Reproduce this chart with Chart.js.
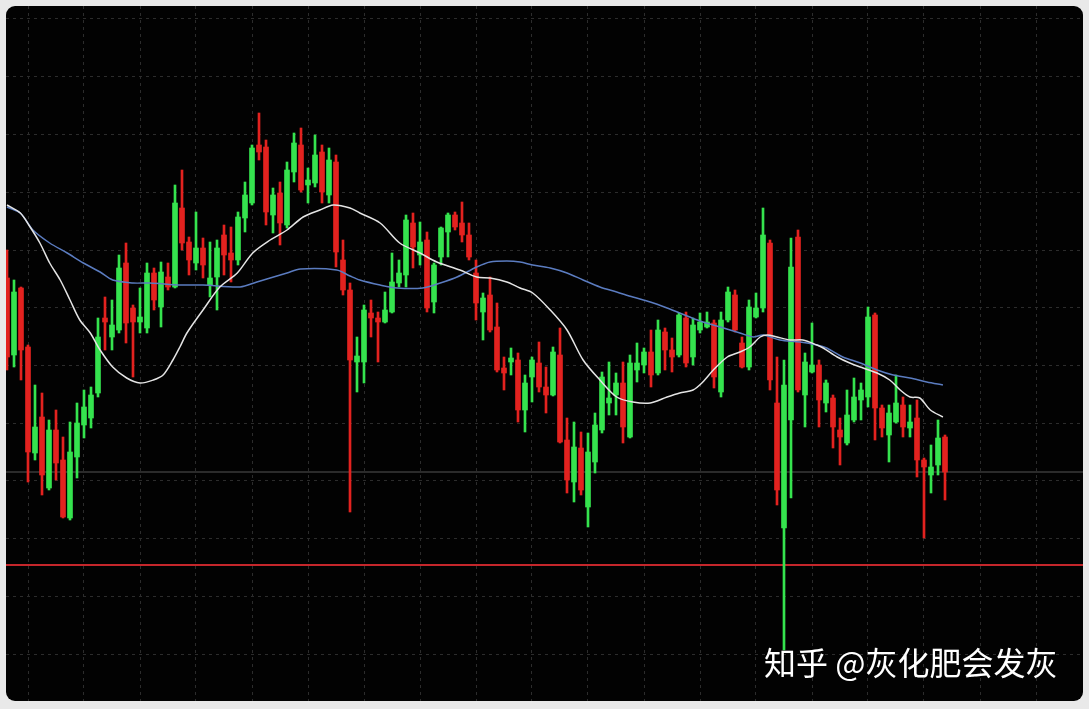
<!DOCTYPE html>
<html lang="zh">
<head>
    <meta charset="UTF-8">
    <title>K线图</title>
    <script src="https://cdn.jsdelivr.net/npm/chart.js"></script>
    <style>
        html, body {
            margin: 0;
            padding: 0;
            background: #e9e9e9;
            width: 1089px;
            height: 709px;
            overflow: hidden;
        }
        #panel {
            position: absolute;
            left: 6px;
            top: 6px;
            width: 1077px;
            height: 695px;
            background: #020202;
            border-radius: 9px;
            overflow: hidden;
        }
        #watermark {
            position: absolute;
            left: 764px;
            top: 638px;
            color: #ffffff;
            font-family: "Noto Sans CJK SC", sans-serif;
            font-size: 32px;
            white-space: nowrap;
        }
    </style>
</head>
<body>
    <div id="panel"><canvas id="kline" width="1077" height="695"></canvas></div>
    <div id="watermark">知乎 @灰化肥会发灰</div>

    <script>
        // OHLC, units (no axis labels in the source)
        const open = [422,345,412,353,247,283,212,270,240,182, 243,275,282,307,382,363,370,437,392,378,
                      372,427,393,423,413,492,458,437,452,415, 423,465,447,440,482,497,555,553,485,507,
                      475,528,555,515,517,548,505,538,440,410, 338,338,387,382,378,388,417,425,477,445,
                      460,398,443,468,485,477,465,427,388,405, 373,332,338,340,290,323,337,313,305,345,
                      260,218,252,193,238,270,297,305,317,263, 330,335,348,327,368,350,345,382,343,370,
                      373,377,308,380,405,357,333,383,392,457, 297,172,280,463,305,328,335,297,302,270,
                      257,280,300,303,385,292,265,278,295,272, 282,240,225,235,263];
        const high = [450,420,413,355,315,307,280,290,263,278, 297,310,313,382,403,400,445,457,395,412,
                      437,432,438,437,515,530,463,488,462,458, 460,475,473,488,518,555,587,560,512,518,
                      538,567,572,532,565,555,552,545,460,417, 363,395,400,388,408,447,440,485,487,478,
                      468,437,473,487,488,498,477,440,407,423, 397,343,352,347,325,343,358,333,353,372,
                      282,278,268,267,287,328,338,327,338,345, 357,352,370,380,372,362,387,388,382,387,
                      388,380,388,413,410,363,400,407,492,460, 343,340,462,470,347,377,340,320,305,282,
                      310,322,317,393,387,295,295,325,303,295, 300,242,255,280,265];
        const low = [330,333,320,218,240,205,210,220,182,180, 222,262,272,303,350,350,367,357,323,367,
                     367,390,373,410,412,450,425,430,422,403, 390,425,418,435,468,495,540,475,467,455,
                     472,518,508,497,513,497,497,433,405,188, 308,317,363,338,377,387,413,413,432,435,
                     388,387,435,443,470,458,440,380,360,368, 328,310,325,278,268,298,308,287,304,257,
                     207,198,205,173,227,267,285,285,257,262, 318,327,313,325,330,328,343,333,335,367,
                     372,312,303,378,368,332,330,382,388,310, 195,50,202,308,273,327,273,288,252,235,
                     255,278,280,293,260,263,238,277,263,263, 223,162,207,225,200];
        const close = [343,408,350,248,273,225,270,237,183,248, 277,293,305,363,378,375,432,377,378,383,
                       427,400,428,413,497,457,440,452,435,422, 452,445,440,483,505,552,548,488,505,477,
                       530,557,510,520,545,508,540,448,410,340, 344,390,382,378,390,418,427,480,453,458,
                       392,435,472,485,473,465,443,397,402,370, 330,327,342,290,317,340,313,305,348,258,
                       220,253,210,248,275,323,302,317,273,337, 337,348,325,370,350,343,385,337,375,378,
                       378,323,380,408,370,333,393,392,465,320, 210,315,433,310,338,335,300,317,273,263,
                       285,303,310,383,292,272,287,297,273,278, 240,233,233,262,228];

        // moving averages, sampled along the curves (x = bar index)
        const maFastX = [0,1.9,3.3,4.7,6.1,7.6,9,10.4,11.9,13.3,15.1,17.1,19,20.9,22.3,23.7,24.7,25.7,28,30.4,
                         32.9,35.1,37.6,40,42.3,44.7,46.6,49,50.4,53.3,56.1,59,61.4,64.7,67.1,69,71.4,73.3,75.1,77.6,
                         80,82.3,84.7,87.1,89.4,91.9,94.3,96.1,98,99.4,100.9,102.9,104.7,106.1,107.6,108.6,110,111.9,113.7,115.7,
                         116.6,118.6,120.4,122.3,124.3,126.1,127.6,129,130.4,131.9,133.7];
        const maFastY = [495,487,473,457,437,420,400,380,367,350,333,322,317,320,325,340,353,367,390,413,
                         427,447,460,470,483,490,495,492,487,477,457,447,438,430,423,422,418,412,407,390,
                         370,340,320,303,298,297,303,307,310,318,330,343,348,353,363,365,363,360,360,355,
                         352,343,337,332,327,320,310,303,302,290,283];
        const maSlowX = [0,1.9,3.7,6.1,8.6,10.9,13.3,15.1,18,20.4,24.7,28,33.3,35.7,37.6,40,41.9,47.1,49,50.4,
                         53.3,55.7,59.4,61.9,64.3,67.1,69,71.4,73.3,75.1,77.6,80,82.3,84.7,87.1,89.4,91.9,94.3,96.1,99,
                         101.9,104.7,106.6,108,110.4,113.3,115.7,117.1,119.4,121.9,124.3,126.6,129,131.4,133.7];
        const maSlowY = [493,487,470,457,447,437,428,420,417,417,415,415,413,418,422,427,431,430,424,420,
                         415,412,412,417,423,433,438,439,438,435,432,427,420,413,408,403,398,392,387,379,
                         373,367,363,365,360,358,355,352,343,337,330,325,322,318,315];

        // horizontal levels and grid positions
        const greyLevel = 228;
        const redLevel = 135;
        const gridX = [3,11,19,27,35,43,51,59,67,75,83,91,99,107,115,123,131,139,147];
        const gridY = [46,104,162,220,277,335,393,450,508,566,624,682];

        const UP = '#35e34e';
        const DOWN = '#e3221f';
        const idx = open.map((_, i) => i);
        const colors = idx.map(i => close[i] >= open[i] ? UP : DOWN);

        const ctx = document.getElementById('kline').getContext('2d');
        new Chart(ctx, {
            type: 'bar',
            data: {
                datasets: [
                    {
                        type: 'line',
                        data: maFastX.map((x, i) => ({ x, y: maFastY[i] })),
                        borderColor: '#e4e4e4',
                        borderWidth: 1.5,
                        pointRadius: 0,
                        tension: 0.3,
                        order: 0
                    },
                    {
                        type: 'line',
                        data: maSlowX.map((x, i) => ({ x, y: maSlowY[i] })),
                        borderColor: '#5b7cc0',
                        borderWidth: 1.5,
                        pointRadius: 0,
                        tension: 0.3,
                        order: 0
                    },
                    {
                        data: idx.map(i => ({ x: i, y: [open[i], close[i]] })),
                        backgroundColor: colors,
                        barThickness: 5,
                        grouped: false,
                        borderWidth: 0,
                        order: 1
                    },
                    {
                        data: idx.map(i => ({ x: i, y: [low[i], high[i]] })),
                        backgroundColor: colors,
                        barThickness: 2,
                        grouped: false,
                        borderWidth: 0,
                        order: 2
                    },
                    {
                        type: 'line',
                        data: [{ x: -2, y: greyLevel }, { x: 156, y: greyLevel }],
                        borderColor: '#3a3a3a',
                        borderWidth: 1.5,
                        pointRadius: 0,
                        order: 3
                    },
                    {
                        type: 'line',
                        data: [{ x: -2, y: redLevel }, { x: 156, y: redLevel }],
                        borderColor: '#c4262b',
                        borderWidth: 2,
                        pointRadius: 0,
                        order: 3
                    }
                ]
            },
            options: {
                responsive: false,
                animation: false,
                devicePixelRatio: 1,
                layout: { padding: 0 },
                plugins: {
                    legend: { display: false },
                    tooltip: { enabled: false }
                },
                scales: {
                    x: {
                        type: 'linear',
                        min: -1 / 7,
                        max: 1076 / 7,
                        offset: false,
                        afterBuildTicks: axis => { axis.ticks = gridX.map(v => ({ value: v })); },
                        ticks: { display: false },
                        border: { display: false, dash: [3, 4] },
                        grid: { offset: false, drawTicks: false, color: '#2c2c2c', lineWidth: 1 }
                    },
                    y: {
                        min: -1,
                        max: 694,
                        afterBuildTicks: axis => { axis.ticks = gridY.map(v => ({ value: v })); },
                        ticks: { display: false },
                        border: { display: false, dash: [3, 4] },
                        grid: { drawTicks: false, color: '#2c2c2c', lineWidth: 1 }
                    }
                }
            }
        });
    </script>
</body>
</html>
